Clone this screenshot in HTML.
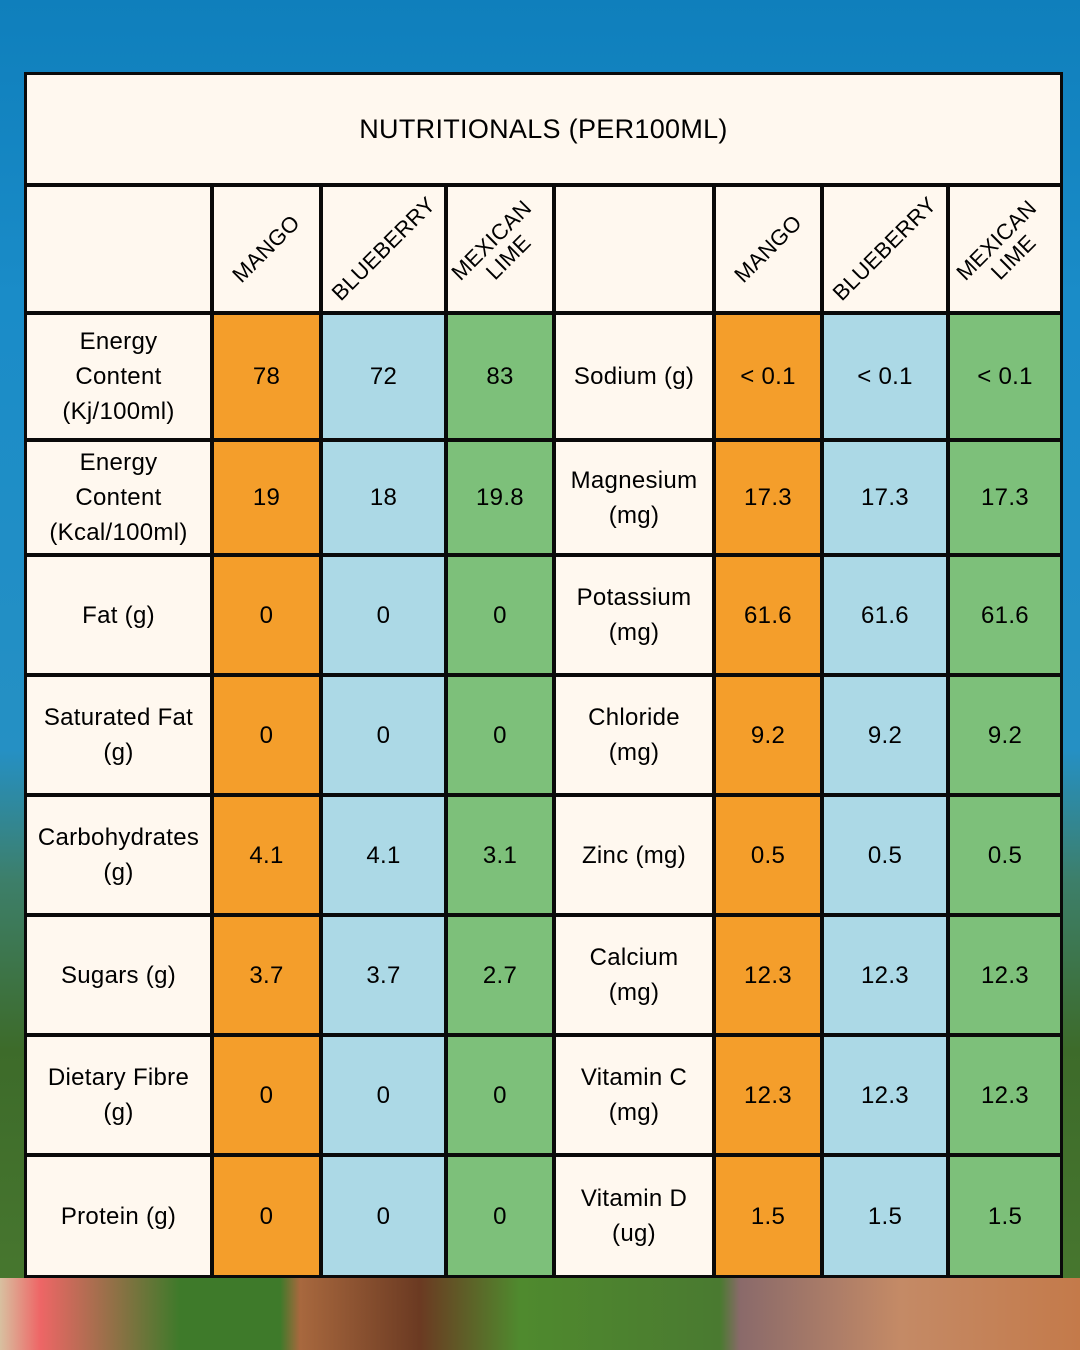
<!DOCTYPE html>
<html><head><meta charset="utf-8"><style>
body{margin:0;width:1080px;height:1350px;position:relative;overflow:hidden;font-family:"Liberation Sans",sans-serif;
background:linear-gradient(180deg,#0f7fbc 0px,#1a8cc8 300px,#2590c4 750px,#3d7f6a 880px,#3d6b2a 1050px,#4a7a30 1350px);}
.bl{position:absolute;background:#0a0a0a;left:24px;top:72px;width:1039px;height:1206px}
.c{position:absolute;display:flex;align-items:center;justify-content:center;text-align:center;font-size:24px;line-height:35px;color:#000;background:#fff8ef;letter-spacing:0.3px}
.o{background:#f49e2b}.b{background:#acd9e6}.g{background:#7dc07a}
.h span{display:block;transform:rotate(-45deg);font-size:22px;line-height:24px;white-space:nowrap}
.deco{position:absolute}
</style></head><body>
<div class="deco" style="left:0;top:1278px;width:1080px;height:72px;background:linear-gradient(90deg,#d8c0a0 0,#e66 40px,#3e7a2a 180px,#3e7a2a 280px,#a8683e 300px,#6b3a22 420px,#4f8a2e 520px,#4a7a30 720px,#8a6a6a 740px,#c48a66 900px,#c47a4a 1080px)"></div>
<div class="bl"></div>
<div id="t"></div>
<script>
const cx=[25,212,321,446,554,714,822,948,1062];
const ry=[73,185,313,440,555,675,795,915,1035,1155,1277];
let h='';
function cell(x1,x2,y1,y2,cls,txt){h+=`<div class="c ${cls}" style="left:${x1+2}px;top:${y1+2}px;width:${x2-x1-4}px;height:${y2-y1-4}px">${txt}</div>`;}
cell(cx[0],cx[8],ry[0],ry[1],'','<span style="font-size:27px">NUTRITIONALS (PER100ML)</span>');
const hd=['MANGO','BLUEBERRY','MEXICAN<br>LIME'];
cell(cx[0],cx[1],ry[1],ry[2],'','');cell(cx[4],cx[5],ry[1],ry[2],'','');
for(let k=0;k<3;k++){cell(cx[1+k],cx[2+k],ry[1],ry[2],'h',`<span>${hd[k]}</span>`);cell(cx[5+k],cx[6+k],ry[1],ry[2],'h',`<span>${hd[k]}</span>`);}
const rows=[
['Energy<br>Content<br>(Kj/100ml)','78','72','83','Sodium (g)','&lt; 0.1','&lt; 0.1','&lt; 0.1'],
['Energy<br>Content<br>(Kcal/100ml)','19','18','19.8','Magnesium<br>(mg)','17.3','17.3','17.3'],
['Fat (g)','0','0','0','Potassium<br>(mg)','61.6','61.6','61.6'],
['Saturated Fat<br>(g)','0','0','0','Chloride<br>(mg)','9.2','9.2','9.2'],
['Carbohydrates<br>(g)','4.1','4.1','3.1','Zinc (mg)','0.5','0.5','0.5'],
['Sugars (g)','3.7','3.7','2.7','Calcium<br>(mg)','12.3','12.3','12.3'],
['Dietary Fibre<br>(g)','0','0','0','Vitamin C<br>(mg)','12.3','12.3','12.3'],
['Protein (g)','0','0','0','Vitamin D<br>(ug)','1.5','1.5','1.5']];
const cl=['','o','b','g','','o','b','g'];
rows.forEach((r,i)=>r.forEach((t,j)=>cell(cx[j],cx[j+1],ry[i+2],ry[i+3],cl[j],t)));
document.getElementById('t').innerHTML=h;
</script>
</body></html>
